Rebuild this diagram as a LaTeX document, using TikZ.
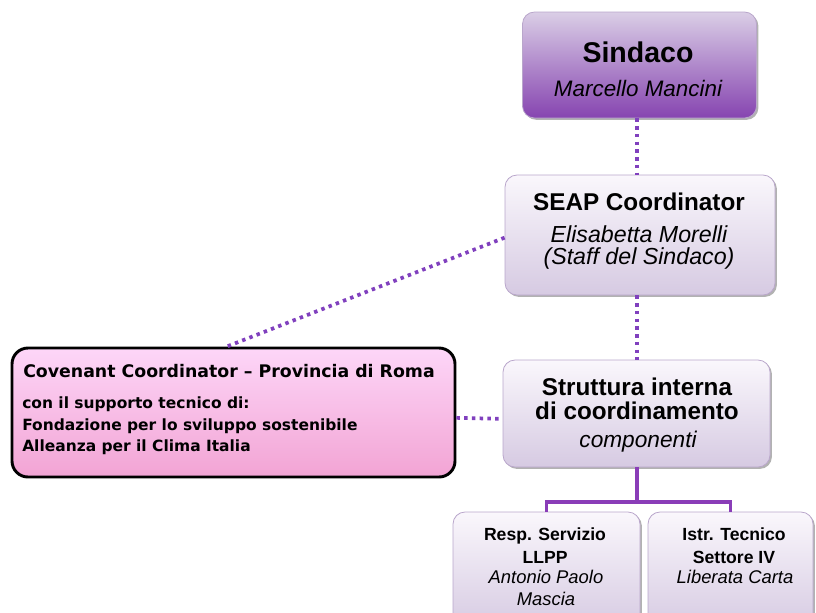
\documentclass[tikz,border=0pt]{standalone}
\usepackage{fontspec}
\setmainfont{Liberation Sans}
\newfontfamily\covfont{DejaVu Sans}
\usetikzlibrary{shadows}
\definecolor{edgec}{RGB}{185,166,203}
\definecolor{dotc}{RGB}{128,64,190}
\definecolor{treec}{RGB}{138,61,184}
\definecolor{sintop}{RGB}{218,206,230}
\definecolor{sinbot}{RGB}{134,68,176}
\definecolor{ltop}{RGB}{250,247,252}
\definecolor{lbot}{RGB}{214,202,226}
\definecolor{ptop}{RGB}{253,214,248}
\definecolor{pbot}{RGB}{242,164,212}
\tikzset{
  orgbox/.style={draw=edgec, line width=0.6pt, rounded corners=9pt, inner sep=0pt,
    drop shadow={shadow xshift=1.4pt, shadow yshift=-1.4pt, fill=black!55, opacity=0.55}},
  lightbox/.style={orgbox, top color=ltop, bottom color=lbot},
  dotline/.style={draw=dotc, line width=2.8pt, dash pattern=on 2.6pt off 3.2pt},
  treeline/.style={draw=treec, line width=2.8pt},
  tb/.style={anchor=base, inner sep=0pt, font=\bfseries},
  ti/.style={anchor=base, inner sep=0pt, font=\itshape},
  cl/.style={anchor=base west, inner sep=0pt},
}
\begin{document}
\begin{tikzpicture}[x=0.75pt, y=-0.75pt]
\path[use as bounding box] (0,0) rectangle (816,612);
\clip (0,0) rectangle (816,612);
% boxes
\node[orgbox, top color=sintop, bottom color=sinbot, minimum width=175.5pt, minimum height=79.5pt] (sindaco) at (639.5,65) {};
\node[lightbox, minimum width=202.5pt, minimum height=90pt] (seap) at (640,235) {};
\node[lightbox, minimum width=200.25pt, minimum height=80.25pt] (struct) at (636.5,413.5) {};
\node[lightbox, minimum width=140.25pt, minimum height=88.5pt] (rl) at (546.5,571) {};
\node[lightbox, minimum width=123.75pt, minimum height=88.5pt] (rr) at (730.5,571) {};
\node[draw=black, line width=2.2pt, rounded corners=12pt, top color=ptop, bottom color=pbot,
      minimum width=332.25pt, minimum height=96.75pt, inner sep=0pt] (cov) at (233.5,412.5) {};
% texts
\node[tb, font=\fontsize{21.4}{25}\selectfont\bfseries] (t1) at (638,62) {Sindaco};
\node[ti, font=\fontsize{16.8}{20}\selectfont\itshape] (t2) at (638,96) {Marcello Mancini};
\node[tb, font=\fontsize{18.2}{22}\selectfont\bfseries] (t3) at (639,210) {SEAP Coordinator};
\node[ti, font=\fontsize{17.4}{21}\selectfont\itshape] (t4) at (639,242) {Elisabetta Morelli};
\node[ti, font=\fontsize{17.4}{21}\selectfont\itshape] (t5) at (639,264) {(Staff del Sindaco)};
\node[tb, font=\fontsize{18.2}{22}\selectfont\bfseries] (t6) at (637,395) {Struttura interna};
\node[tb, font=\fontsize{18.2}{22}\selectfont\bfseries] (t7) at (637,419) {di coordinamento};
\node[ti, font=\fontsize{17}{21}\selectfont\itshape] (t8) at (638,447) {componenti};
\node[tb, font=\fontsize{13.2}{16}\selectfont\bfseries] (t9) at (545,540) {Resp. Servizio};
\node[tb, font=\fontsize{13.2}{16}\selectfont\bfseries] (t10) at (545,563) {LLPP};
\node[ti, font=\fontsize{13.8}{16}\selectfont\itshape] (t11) at (546,583) {Antonio Paolo};
\node[ti, font=\fontsize{13.8}{16}\selectfont\itshape] (t12) at (546,605) {Mascia};
\node[tb, font=\fontsize{13.2}{16}\selectfont\bfseries] (t13) at (734,540) {Istr. Tecnico};
\node[tb, font=\fontsize{13.2}{16}\selectfont\bfseries] (t14) at (734,563) {Settore IV};
\node[ti, font=\fontsize{13.8}{16}\selectfont\itshape] (t15) at (735,583) {Liberata Carta};
\node[cl, font=\covfont\fontsize{13}{16}\selectfont\bfseries] (c1) at (23,377) {Covenant Coordinator – Provincia di Roma};
\node[cl, font=\covfont\fontsize{11.6}{14}\selectfont\bfseries] (c2) at (22,408) {con il supporto tecnico di:};
\node[cl, font=\covfont\fontsize{11.6}{14}\selectfont\bfseries] (c3) at (22,430) {Fondazione per lo sviluppo sostenibile};
\node[cl, font=\covfont\fontsize{11.6}{14}\selectfont\bfseries] (c4) at (22,451) {Alleanza per il Clima Italia};
% connectors
\coordinate (vx) at (637,0);
\coordinate (fork) at (637,502);
\draw[dotline] (sindaco.south -| vx) -- (seap.north -| vx);
\draw[dotline] (seap.south -| vx) -- (struct.north -| vx);
\draw[dotline] ([yshift=-2pt]seap.west) -- ([xshift=-5pt]cov.north);
\draw[dotline] ([yshift=-4pt]cov.east) -- ([yshift=-4pt]struct.west);
\draw[treeline] (struct.south -| vx) -- (fork);
\draw[treeline] (rl.north) |- (fork) -| (rr.north);
\end{tikzpicture}
\end{document}
